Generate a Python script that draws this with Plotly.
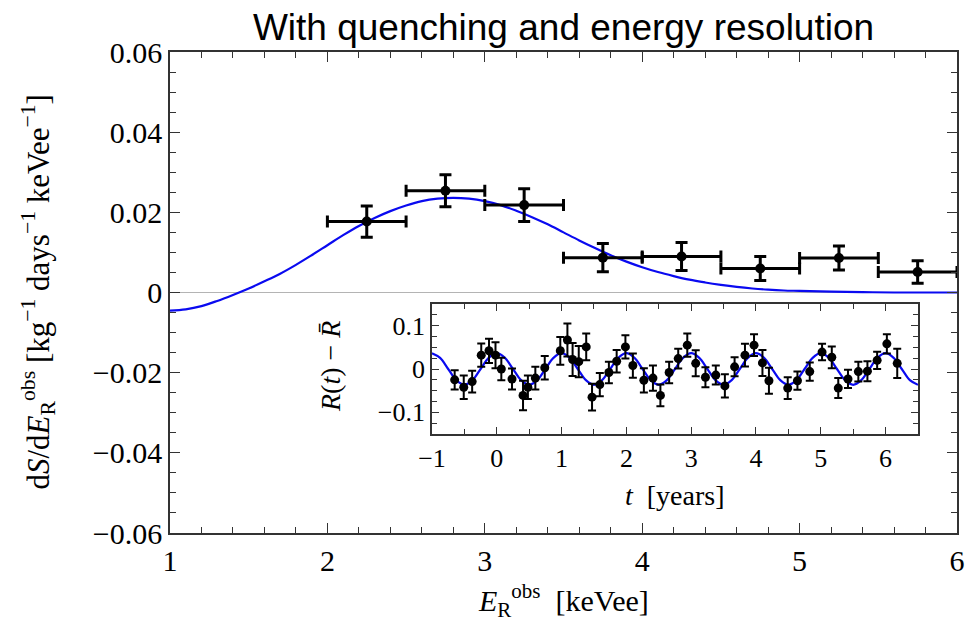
import plotly.graph_objects as go

# ---------------- main panel data ----------------
bin_centers = [2.25, 2.75, 3.25, 3.75, 4.25, 4.75, 5.25, 5.75]
bin_halfwidth = [0.25, 0.25, 0.25, 0.25, 0.25, 0.25, 0.25, 0.25]
rate_values = [0.0177, 0.0254, 0.0218, 0.0087, 0.0090, 0.0060, 0.0086, 0.0051]
rate_errors = [0.0039, 0.0040, 0.0041, 0.0035, 0.0035, 0.0030, 0.0030, 0.0028]

model_E = [1.0, 1.1, 1.2, 1.3, 1.4, 1.5, 1.6, 1.7, 1.8, 1.9, 2.0, 2.1, 2.2, 2.3,
           2.4, 2.5, 2.6, 2.7, 2.8, 2.9, 3.0, 3.1, 3.2, 3.3, 3.4, 3.5, 3.6, 3.7,
           3.8, 3.9, 4.0, 4.1, 4.2, 4.3, 4.4, 4.5, 4.6, 4.7, 4.8, 4.9, 5.0, 5.2,
           5.4, 5.6, 6.0]
model_S = [-0.0045, -0.0042, -0.0034, -0.0021, -0.0006, 0.0010, 0.0028, 0.0047,
           0.0069, 0.0093, 0.0118, 0.0143, 0.0166, 0.0186, 0.0203, 0.0217, 0.0228,
           0.0234, 0.0236, 0.0234, 0.0228, 0.0218, 0.0204, 0.0188, 0.0170, 0.0150,
           0.0130, 0.0111, 0.0093, 0.0077, 0.0063, 0.0051, 0.0041, 0.0032, 0.0025,
           0.0019, 0.0014, 0.0010, 0.0007, 0.0005, 0.0004, 0.0002, 0.0001, 0.0, 0.0]

main_xticks = [1, 2, 3, 4, 5, 6]
main_xticktext = ["1", "2", "3", "4", "5", "6"]
main_yticks = [-0.06, -0.04, -0.02, 0, 0.02, 0.04, 0.06]
main_yticktext = ["−0.06", "−0.04", "−0.02", "0", "0.02", "0.04", "0.06"]

# ---------------- inset data ----------------
t_years = [-0.65, -0.51, -0.38, -0.24, -0.12, -0.02, 0.07, 0.235, 0.405, 0.48,
           0.595, 0.74, 0.98, 1.09, 1.17, 1.265, 1.38, 1.47, 1.59, 1.73, 1.85,
           1.985, 2.10, 2.27, 2.41, 2.525, 2.66, 2.80, 2.94, 3.07, 3.22, 3.38,
           3.52, 3.67, 3.83, 3.97, 4.10, 4.20, 4.49, 4.64, 4.83, 5.02, 5.17,
           5.27, 5.42, 5.58, 5.72, 5.87, 6.02, 6.18]
residual = [-0.025, -0.042, -0.029, 0.032, 0.042, 0.032, 0.000, -0.023, -0.061,
            -0.042, -0.021, 0.003, 0.042, 0.067, 0.022, 0.017, 0.051, -0.065,
            -0.036, -0.008, 0.018, 0.051, 0.008, -0.026, -0.021, -0.061, -0.008,
            0.024, 0.055, 0.013, -0.019, -0.014, -0.039, 0.005, 0.032, 0.055,
            0.014, -0.027, -0.044, -0.027, -0.006, 0.039, 0.027, -0.044, -0.023,
            -0.006, -0.005, 0.020, 0.058, 0.013]
residual_err = [0.022, 0.027, 0.025, 0.027, 0.028, 0.030, 0.026, 0.024, 0.034,
                0.027, 0.026, 0.027, 0.032, 0.038, 0.038, 0.036, 0.031, 0.031,
                0.027, 0.025, 0.026, 0.027, 0.028, 0.028, 0.029, 0.025, 0.025,
                0.023, 0.027, 0.030, 0.023, 0.022, 0.027, 0.022, 0.026, 0.025,
                0.030, 0.030, 0.025, 0.021, 0.021, 0.019, 0.025, 0.023, 0.021,
                0.023, 0.023, 0.020, 0.022, 0.034]

mod_t = [-1.0, -0.875, -0.75, -0.625, -0.5, -0.375, -0.25, -0.125,
         0.0, 0.125, 0.25, 0.375, 0.5, 0.625, 0.75, 0.875,
         1.0, 1.125, 1.25, 1.375, 1.5, 1.625, 1.75, 1.875,
         2.0, 2.125, 2.25, 2.375, 2.5, 2.625, 2.75, 2.875,
         3.0, 3.125, 3.25, 3.375, 3.5, 3.625, 3.75, 3.875,
         4.0, 4.125, 4.25, 4.375, 4.5, 4.625, 4.75, 4.875,
         5.0, 5.125, 5.25, 5.375, 5.5, 5.625, 5.75, 5.875,
         6.0, 6.125, 6.25, 6.375, 6.5]
mod_R = [0.0365, 0.0258, 0.0, -0.0258, -0.0365, -0.0258, 0.0, 0.0258,
         0.0365, 0.0258, 0.0, -0.0258, -0.0365, -0.0258, 0.0, 0.0258,
         0.0365, 0.0258, 0.0, -0.0258, -0.0365, -0.0258, 0.0, 0.0258,
         0.0365, 0.0258, 0.0, -0.0258, -0.0365, -0.0258, 0.0, 0.0258,
         0.0365, 0.0258, 0.0, -0.0258, -0.0365, -0.0258, 0.0, 0.0258,
         0.0365, 0.0258, 0.0, -0.0258, -0.0365, -0.0258, 0.0, 0.0258,
         0.0365, 0.0258, 0.0, -0.0258, -0.0365, -0.0258, 0.0, 0.0258,
         0.0365, 0.0258, 0.0, -0.0258, -0.0365]

inset_xticks = [-1, 0, 1, 2, 3, 4, 5, 6]
inset_xticktext = ["−1", "0", "1", "2", "3", "4", "5", "6"]
inset_yticks = [-0.1, 0, 0.1]
inset_yticktext = ["−0.1", "0", "0.1"]

SERIF = "Liberation Serif"
AX = "#333333"
BLUE = "#0a0af0"

fig = go.Figure()

fig.add_trace(go.Scatter(
    x=model_E, y=model_S, mode="lines", line=dict(color=BLUE, width=2.2, shape="spline"),
    xaxis="x", yaxis="y", showlegend=False, hoverinfo="skip"))

fig.add_trace(go.Scatter(
    x=bin_centers, y=rate_values, mode="markers",
    marker=dict(color="black", size=10),
    error_x=dict(type="data", array=bin_halfwidth, color="black", thickness=3, width=6),
    error_y=dict(type="data", array=rate_errors, color="black", thickness=3, width=6),
    xaxis="x", yaxis="y", showlegend=False))

fig.add_trace(go.Scatter(
    x=mod_t, y=mod_R, mode="lines", line=dict(color=BLUE, width=2.2, shape="spline"),
    xaxis="x2", yaxis="y2", showlegend=False, hoverinfo="skip"))

fig.add_trace(go.Scatter(
    x=t_years, y=residual, mode="markers",
    marker=dict(color="black", size=9),
    error_y=dict(type="data", array=residual_err, color="black", thickness=2, width=4),
    xaxis="x2", yaxis="y2", showlegend=False))

common = dict(showgrid=False, showline=True, linecolor=AX, linewidth=1.5, mirror="allticks",
              ticks="inside", tickcolor=AX, tickwidth=1)

fig.update_layout(
    width=980, height=622,
    margin=dict(l=170, r=23, t=52, b=89),
    paper_bgcolor="white", plot_bgcolor="white",
    title=dict(text="With quenching and energy resolution", x=0.5, xref="paper",
               y=1 - 27 / 622, yref="container", xanchor="center", yanchor="middle",
               font=dict(family="Liberation Sans", size=37, color="black")),
    xaxis=dict(domain=[0, 1], range=[1, 6], tickmode="array", tickvals=main_xticks,
               ticktext=main_xticktext, ticklen=10, zeroline=False,
               tickfont=dict(family=SERIF, size=30, color="black"),
               minor=dict(dtick=0.2, tick0=1, ticklen=6, ticks="inside", tickcolor=AX),
               **common),
    yaxis=dict(domain=[0, 1], range=[-0.06, 0.06], tickmode="array", tickvals=main_yticks,
               ticktext=main_yticktext, ticklen=10,
               tickfont=dict(family=SERIF, size=30, color="black"),
               minor=dict(dtick=0.005, tick0=0, ticklen=6, ticks="inside", tickcolor=AX),
               zeroline=True, zerolinecolor="#b4b4b4", zerolinewidth=1,
               **common),
    xaxis2=dict(domain=[0.3329, 0.9504], anchor="y2", range=[-1, 6.5], tickmode="array",
                tickvals=inset_xticks, ticktext=inset_xticktext, ticklen=7, zeroline=False,
                tickfont=dict(family=SERIF, size=26, color="black"),
                minor=dict(dtick=0.5, tick0=0, ticklen=5, ticks="inside", tickcolor=AX),
                **common),
    yaxis2=dict(domain=[0.2058, 0.4761], anchor="x2", range=[-0.15, 0.15], tickmode="array",
                tickvals=inset_yticks, ticktext=inset_yticktext, ticklen=7, zeroline=False,
                tickfont=dict(family=SERIF, size=26, color="black"),
                minor=dict(dtick=0.025, tick0=0, ticklen=5, ticks="inside", tickcolor=AX),
                **common),
    annotations=[
        dict(text="d<i>S</i>/d<i>E</i><sub>R</sub><sup>obs</sup> [kg<sup>−1</sup> days<sup>−1</sup> keVee<sup>−1</sup>]",
             xref="paper", yref="paper", x=(38 - 170) / 787, y=0.5, textangle=-90,
             showarrow=False, xanchor="center", yanchor="middle",
             font=dict(family=SERIF, size=31, color="black")),
        dict(text="<i>E</i><sub>R</sub><sup>obs</sup>  [keVee]",
             xref="paper", yref="paper", x=0.5, y=(533 - 600) / 481,
             showarrow=False, xanchor="center", yanchor="middle",
             font=dict(family=SERIF, size=30, color="black")),
        dict(text="<i>R</i>(<i>t</i>) − <i>R̄</i>",
             xref="paper", yref="paper", x=(330 - 170) / 787, y=(533 - 367) / 481, textangle=-90,
             showarrow=False, xanchor="center", yanchor="middle",
             font=dict(family=SERIF, size=28, color="black")),
        dict(text="<i>t</i>  [years]",
             xref="paper", yref="paper", x=(675 - 170) / 787, y=(533 - 495) / 481,
             showarrow=False, xanchor="center", yanchor="middle",
             font=dict(family=SERIF, size=28, color="black")),
    ],
)

fig.write_html("out.html")
